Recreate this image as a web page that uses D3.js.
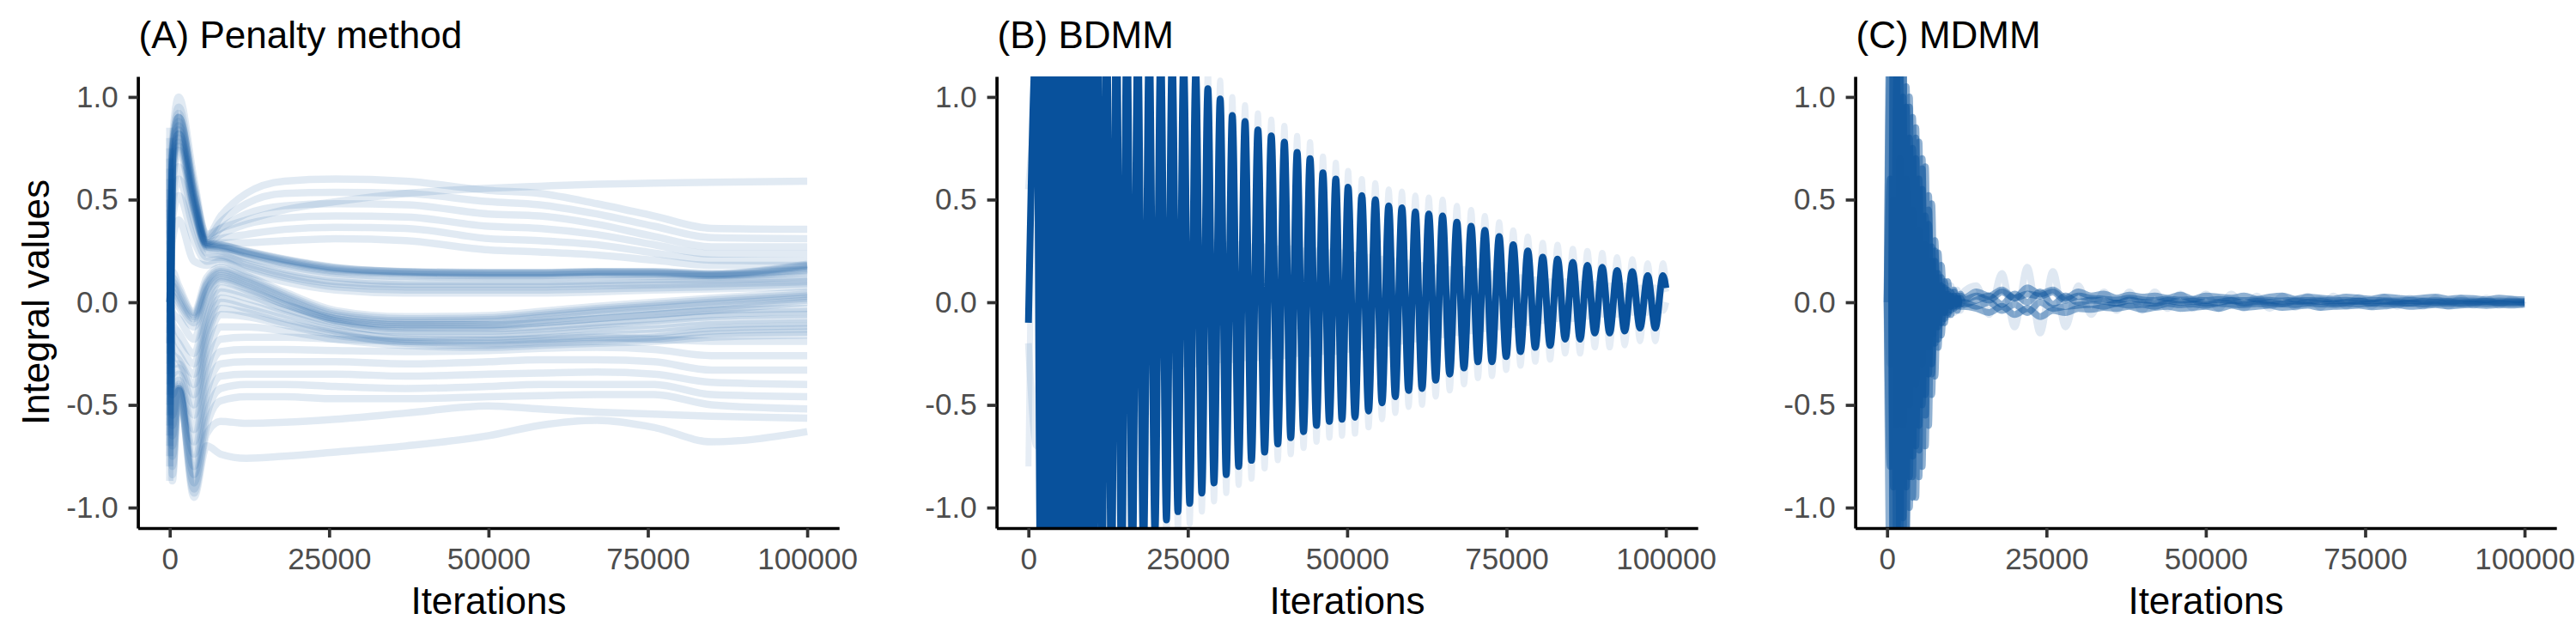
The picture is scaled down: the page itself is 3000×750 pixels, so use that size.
<!DOCTYPE html>
<html><head><meta charset="utf-8">
<script src="https://cdn.jsdelivr.net/npm/d3@7"></script>
<style>
body{margin:0;background:#fff}
svg{display:block}
</style>
</head><body>
<svg id="chart" width="3000" height="750"></svg>
<script>
// ---------------- DATA ----------------
const panelTitles = ["(A) Penalty method", "(B) BDMM", "(C) MDMM"];
const xTicks = [0, 25000, 50000, 75000, 100000];
const xTickLabels = ["0", "25000", "50000", "75000", "100000"];
const yTicks = [-1.0, -0.5, 0.0, 0.5, 1.0];
const yTickLabels = ["-1.0", "-0.5", "0.0", "0.5", "1.0"];
const xTitle = "Iterations";
const yTitle = "Integral values";

// (A) Penalty method: runs sampled at these iterations
const penaltyIter = [0, 400, 1400, 3800, 5800, 8000, 12000, 18000, 26000, 37000, 50000, 58000, 67000, 76000, 85000, 100000];
const penaltyUpper = [
  [-0.80, 0.70, 0.90, 0.55, 0.33, 0.36, 0.40, 0.45, 0.49, 0.53, 0.555, 0.565, 0.575, 0.58, 0.585, 0.59],
  [-0.87, 0.78, 1.00, 0.60, 0.32, 0.42, 0.53, 0.59, 0.60, 0.59, 0.545, 0.53, 0.48, 0.42, 0.36, 0.355],
  [-0.75, 0.74, 0.95, 0.57, 0.31, 0.39, 0.48, 0.53, 0.535, 0.53, 0.49, 0.475, 0.43, 0.37, 0.315, 0.31],
  [-0.70, 0.72, 0.90, 0.55, 0.30, 0.36, 0.43, 0.47, 0.48, 0.475, 0.43, 0.42, 0.38, 0.32, 0.27, 0.27],
  [-0.65, 0.70, 0.86, 0.52, 0.29, 0.33, 0.38, 0.41, 0.42, 0.415, 0.37, 0.36, 0.33, 0.28, 0.235, 0.235],
  [-0.60, 0.68, 0.82, 0.50, 0.29, 0.31, 0.33, 0.355, 0.365, 0.36, 0.31, 0.30, 0.28, 0.24, 0.205, 0.20],
  [-0.55, 0.66, 0.78, 0.48, 0.28, 0.29, 0.29, 0.30, 0.31, 0.30, 0.255, 0.245, 0.23, 0.205, 0.18, 0.18]
];
const penaltyBundleHigh = [
  [-0.50, 0.75, 0.92, 0.52, 0.29, 0.28, 0.25, 0.21, 0.17, 0.15, 0.145, 0.145, 0.15, 0.15, 0.14, 0.185],
  [-0.45, 0.72, 0.90, 0.51, 0.285, 0.278, 0.248, 0.208, 0.168, 0.149, 0.144, 0.144, 0.149, 0.148, 0.138, 0.18],
  [-0.40, 0.70, 0.88, 0.50, 0.28, 0.275, 0.245, 0.205, 0.165, 0.148, 0.142, 0.142, 0.148, 0.146, 0.136, 0.175],
  [-0.35, 0.66, 0.84, 0.48, 0.28, 0.27, 0.24, 0.20, 0.16, 0.145, 0.14, 0.14, 0.145, 0.143, 0.133, 0.165],
  [-0.30, 0.64, 0.82, 0.47, 0.275, 0.268, 0.238, 0.195, 0.155, 0.14, 0.135, 0.135, 0.14, 0.14, 0.132, 0.16],
  [-0.25, 0.62, 0.80, 0.46, 0.27, 0.265, 0.235, 0.19, 0.15, 0.135, 0.13, 0.13, 0.135, 0.135, 0.13, 0.155],
  [-0.20, 0.58, 0.76, 0.45, 0.27, 0.26, 0.22, 0.18, 0.14, 0.125, 0.12, 0.12, 0.125, 0.125, 0.125, 0.145]
];
const penaltyMiddle = [
  [-0.20, 0.55, 0.74, 0.44, 0.26, 0.25, 0.21, 0.16, 0.12, 0.10, 0.10, 0.10, 0.105, 0.11, 0.11, 0.125],
  [-0.15, 0.50, 0.66, 0.40, 0.24, 0.23, 0.19, 0.14, 0.10, 0.085, 0.085, 0.085, 0.09, 0.095, 0.10, 0.11],
  [-0.10, 0.45, 0.60, 0.35, 0.22, 0.22, 0.18, 0.13, 0.09, 0.075, 0.075, 0.075, 0.08, 0.085, 0.09, 0.10],
  [-0.05, 0.40, 0.52, 0.30, 0.20, 0.21, 0.17, 0.12, 0.075, 0.06, 0.06, 0.06, 0.065, 0.07, 0.075, 0.09],
  [0, 0.30, 0.40, 0.20, 0.18, 0.20, 0.15, 0.10, 0.06, 0.045, 0.045, 0.045, 0.05, 0.06, 0.065, 0.075],
  [0, 0.15, 0.08, -0.05, 0.12, 0.17, 0.13, 0.05, -0.04, -0.07, -0.065, -0.045, -0.02, 0.0, 0.02, 0.05],
  [0, 0.12, 0.06, -0.06, 0.10, 0.16, 0.12, 0.04, -0.05, -0.08, -0.075, -0.055, -0.03, -0.01, 0.01, 0.04],
  [0, 0.10, 0.04, -0.07, 0.09, 0.15, 0.11, 0.03, -0.06, -0.09, -0.085, -0.065, -0.04, -0.02, 0.0, 0.03],
  [0, 0.08, 0.02, -0.08, 0.08, 0.14, 0.10, 0.02, -0.07, -0.10, -0.095, -0.075, -0.05, -0.03, -0.01, 0.02],
  [0, 0.05, 0.0, -0.10, 0.06, 0.13, 0.09, 0.01, -0.08, -0.11, -0.11, -0.09, -0.065, -0.045, -0.025, 0.01],
  [0, 0.03, -0.02, -0.12, 0.05, 0.12, 0.08, 0.0, -0.09, -0.12, -0.12, -0.10, -0.08, -0.06, -0.04, 0.0]
];
const penaltyLowMid = [
  [0.05, -0.05, -0.08, -0.18, 0.02, 0.11, 0.07, -0.01, -0.09, -0.13, -0.13, -0.12, -0.10, -0.08, -0.06, -0.045],
  [0.10, -0.10, -0.15, -0.25, -0.02, 0.10, 0.06, -0.01, -0.08, -0.11, -0.11, -0.10, -0.08, -0.06, -0.04, -0.03],
  [0.15, -0.15, -0.20, -0.30, -0.05, 0.07, 0.04, -0.03, -0.10, -0.15, -0.155, -0.145, -0.125, -0.11, -0.09, -0.08],
  [0.20, -0.20, -0.25, -0.35, -0.08, 0.05, 0.02, -0.04, -0.11, -0.14, -0.14, -0.13, -0.11, -0.09, -0.07, -0.06],
  [0.25, -0.25, -0.28, -0.40, -0.12, 0.02, -0.01, -0.06, -0.13, -0.18, -0.185, -0.175, -0.16, -0.15, -0.125, -0.115],
  [0.30, -0.30, -0.30, -0.45, -0.15, 0.0, -0.03, -0.08, -0.14, -0.17, -0.17, -0.16, -0.14, -0.13, -0.11, -0.10],
  [0.35, -0.35, -0.32, -0.50, -0.18, -0.03, -0.05, -0.10, -0.15, -0.20, -0.21, -0.20, -0.19, -0.18, -0.155, -0.145],
  [0.40, -0.40, -0.35, -0.55, -0.22, -0.06, -0.07, -0.11, -0.16, -0.19, -0.20, -0.19, -0.18, -0.17, -0.14, -0.13],
  [0.45, -0.45, -0.38, -0.62, -0.28, -0.12, -0.12, -0.14, -0.18, -0.21, -0.22, -0.21, -0.20, -0.19, -0.17, -0.16]
];
const penaltyLower = [
  [0.50, -0.55, -0.40, -0.68, -0.33, -0.18, -0.17, -0.17, -0.18, -0.19, -0.185, -0.18, -0.17, -0.18, -0.19, -0.19],
  [0.55, -0.60, -0.42, -0.74, -0.38, -0.24, -0.23, -0.23, -0.235, -0.24, -0.235, -0.225, -0.22, -0.23, -0.26, -0.26],
  [0.60, -0.65, -0.42, -0.80, -0.44, -0.30, -0.29, -0.29, -0.29, -0.30, -0.29, -0.28, -0.28, -0.29, -0.33, -0.33],
  [0.65, -0.70, -0.43, -0.84, -0.50, -0.36, -0.35, -0.35, -0.35, -0.36, -0.35, -0.345, -0.34, -0.35, -0.39, -0.40],
  [0.70, -0.75, -0.43, -0.88, -0.55, -0.42, -0.40, -0.40, -0.41, -0.42, -0.41, -0.40, -0.40, -0.40, -0.45, -0.46],
  [0.75, -0.80, -0.43, -0.91, -0.60, -0.48, -0.46, -0.46, -0.47, -0.47, -0.46, -0.455, -0.45, -0.45, -0.50, -0.52],
  [0.80, -0.84, -0.42, -0.93, -0.64, -0.58, -0.59, -0.585, -0.57, -0.54, -0.505, -0.52, -0.535, -0.545, -0.555, -0.565],
  [0.85, -0.87, -0.41, -0.95, -0.70, -0.74, -0.76, -0.75, -0.73, -0.70, -0.65, -0.60, -0.575, -0.61, -0.68, -0.63]
];

// (B) BDMM: extrema (peak, trough, ...) of the oscillating runs
const bdmmIter = [0,
  1300,1900, 2500,3100, 3700,4280, 4850,5400, 5950,6500,
  7050,7620, 8200,8820, 9450,10120, 10800,11520, 12250,13020,
  13800,14620, 15450,16300, 17150,18050, 18950,19850, 20750,21650,
  22550,23450, 24350,25300, 26250,27200, 28150,29110, 30080,31030,
  31980,32980, 33980,34990, 36000,37050, 38100,39120, 40150,41150,
  42150,43160, 44180,45190, 46200,47210, 48220,49190, 50150,51230,
  52300,53360, 54420,55470, 56520,57550, 58590,59640, 60700,61750,
  62810,63890, 64970,66090, 67210,68330, 69450,70520, 71600,72720,
  73850,74950, 76050,77190, 78340,79510, 80680,81840, 83010,84200,
  85400,86540, 87690,88850, 90020,91180, 92350,93540, 94730,95940,
  97150,98340,
  99540, 100000];
const bdmmMain = [-0.1,
  1.30,-1.40, 1.60,-1.60, 1.70,-1.70, 1.70,-1.70, 1.70,-1.65,
  1.65,-1.60, 1.60,-1.55, 1.55,-1.50, 1.50,-1.45, 1.45,-1.40,
  1.40,-1.35, 1.35,-1.30, 1.30,-1.22, 1.27,-1.12, 1.23,-1.06,
  1.20,-1.02, 1.17,-0.98, 1.12,-0.93, 1.04,-0.88, 0.99,-0.84,
  0.91,-0.80, 0.88,-0.77, 0.84,-0.73, 0.81,-0.69, 0.78,-0.66,
  0.73,-0.63, 0.70,-0.60, 0.63,-0.58, 0.60,-0.57, 0.56,-0.56,
  0.52,-0.53, 0.50,-0.49, 0.47,-0.46, 0.46,-0.43, 0.44,-0.42,
  0.43,-0.38, 0.42,-0.35, 0.39,-0.32, 0.37,-0.29, 0.35,-0.29,
  0.32,-0.265, 0.28,-0.24, 0.25,-0.22, 0.22,-0.21, 0.21,-0.18,
  0.195,-0.18, 0.18,-0.15, 0.17,-0.15, 0.155,-0.14, 0.15,-0.125,
  0.13,-0.125,
  0.13, 0.07];
const bdmmTip = [-0.8,
  1.50,-1.60, 1.80,-1.80, 1.90,-1.90, 1.90,-1.90, 1.90,-1.85,
  1.85,-1.80, 1.80,-1.75, 1.75,-1.70, 1.70,-1.65, 1.65,-1.60,
  1.60,-1.55, 1.50,-1.45, 1.45,-1.35, 1.40,-1.25, 1.35,-1.17,
  1.30,-1.12, 1.27,-1.08, 1.22,-1.02, 1.13,-0.97, 1.08,-0.93,
  1.00,-0.89, 0.96,-0.86, 0.92,-0.81, 0.89,-0.77, 0.86,-0.74,
  0.81,-0.71, 0.78,-0.68, 0.71,-0.66, 0.68,-0.65, 0.64,-0.64,
  0.60,-0.61, 0.58,-0.57, 0.55,-0.54, 0.54,-0.51, 0.52,-0.50,
  0.51,-0.46, 0.50,-0.43, 0.47,-0.40, 0.45,-0.37, 0.42,-0.36,
  0.39,-0.33, 0.35,-0.31, 0.32,-0.29, 0.29,-0.28, 0.28,-0.25,
  0.26,-0.25, 0.25,-0.22, 0.24,-0.22, 0.22,-0.21, 0.21,-0.19,
  0.19,-0.19,
  0.19, 0.10];
const bdmmLow = [0.55,
  0.90,-0.90, 0.90,-0.90, 0.80,-0.80, 0.70,-0.70, 0.60,-0.60,
  0.55,-0.55, 0.50,-0.50, 0.45,-0.45, 0.45,-0.42, 0.42,-0.40,
  0.40,-0.38, 0.40,-0.36, 0.38,-0.35, 0.37,-0.33, 0.36,-0.32,
  0.35,-0.30, 0.35,-0.30, 0.34,-0.29, 0.34,-0.28, 0.33,-0.28,
  0.33,-0.27, 0.32,-0.27, 0.32,-0.26, 0.31,-0.26, 0.30,-0.25,
  0.30,-0.25, 0.29,-0.24, 0.29,-0.24, 0.28,-0.23, 0.28,-0.22,
  0.27,-0.22, 0.26,-0.21, 0.25,-0.20, 0.24,-0.19, 0.23,-0.18,
  0.22,-0.17, 0.21,-0.16, 0.20,-0.15, 0.19,-0.14, 0.18,-0.13,
  0.17,-0.12, 0.16,-0.11, 0.15,-0.10, 0.14,-0.10, 0.13,-0.09,
  0.12,-0.08, 0.12,-0.08, 0.11,-0.07, 0.10,-0.07, 0.10,-0.06,
  0.10,-0.06,
  0.09, 0.05];
const bdmmLowAnti = [-0.2,
  -0.70,0.70, -0.70,0.70, -0.65,0.65, -0.60,0.60, -0.55,0.55,
  -0.50,0.50, -0.45,0.45, -0.42,0.42, -0.40,0.40, -0.38,0.38,
  -0.36,0.36, -0.35,0.35, -0.34,0.34, -0.33,0.33, -0.32,0.32,
  -0.31,0.31, -0.30,0.30, -0.30,0.30, -0.29,0.29, -0.28,0.28,
  -0.28,0.28, -0.27,0.27, -0.27,0.27, -0.26,0.26, -0.26,0.26,
  -0.25,0.25, -0.25,0.25, -0.24,0.24, -0.24,0.24, -0.23,0.23,
  -0.22,0.22, -0.21,0.21, -0.20,0.20, -0.19,0.19, -0.18,0.18,
  -0.17,0.17, -0.16,0.16, -0.15,0.16, -0.14,0.15, -0.13,0.14,
  -0.12,0.13, -0.11,0.12, -0.10,0.11, -0.09,0.10, -0.08,0.10,
  -0.08,0.09, -0.07,0.09, -0.06,0.08, -0.06,0.08, -0.05,0.07,
  -0.05,0.07,
  -0.04, 0.0];

// (C) MDMM: runs sampled at these iterations
const mdmmIter = [0,500,1000,1500,2000,2500,3000,3500,4000,4500,5000,5500,6000,6500,7000,7500,8000,8500,9000,9500,10000,10500,11000,11500,12000,
  14000,16000,18000,20000,22000,24000,26000,28000,30000,32000,34000,36000,38000,40000,42000,44000,46000,48000,50000,52000,54000,56000,58000,60000,
  62000,64000,66000,68000,70000,72000,74000,76000,78000,80000,82000,84000,86000,88000,90000,92000,94000,96000,98000,100000];
const mdmmRun1 = [0, 1.2, -1.5, 1.5, -1.3, 1.2, -1.1, 0.95, -0.85, 0.8, -0.72, 0.65, -0.55, 0.45, -0.35, 0.25, -0.18, 0.12, -0.08, 0.06, -0.04, 0.05, -0.02, 0.03, 0.02,
  0.05, 0.03, 0.06, 0.02, 0.07, 0.04, 0.06, 0.02, 0.05, 0.03, 0.04, 0.02, 0.035, 0.025, 0.03, 0.02, 0.035, 0.015, 0.03, 0.025, 0.02, 0.03, 0.015, 0.025, 0.03, 0.015, 0.025, 0.02, 0.015, 0.025, 0.02, 0.015, 0.025, 0.02, 0.015, 0.02, 0.025, 0.015, 0.02, 0.018, 0.012, 0.02, 0.015, 0.012];
const mdmmRun2 = [0, -1.4, 1.6, -1.4, 1.35, -1.2, 1.05, -1.0, 0.9, -0.95, 0.78, -0.8, 0.66, -0.6, 0.48, -0.36, 0.24, -0.16, 0.1, -0.06, 0.05, -0.03, 0.03, -0.02, -0.02,
  -0.03, -0.05, -0.02, -0.06, -0.03, -0.07, -0.04, -0.05, -0.03, -0.035, -0.025, -0.03, -0.02, -0.035, -0.025, -0.02, -0.03, -0.025, -0.02, -0.03, -0.015, -0.025, -0.02, -0.015, -0.025, -0.02, -0.015, -0.025, -0.02, -0.018, -0.015, -0.022, -0.018, -0.012, -0.02, -0.016, -0.012, -0.018, -0.014, -0.012, -0.016, -0.012, -0.014, -0.01];
const mdmmRun3 = [0, 0.6, -0.9, 1.1, -1.2, 1.0, -0.9, 0.8, -0.75, 0.7, -0.6, 0.55, -0.45, 0.38, -0.3, 0.2, -0.12, 0.08, -0.05, 0.04, -0.02, 0.03, -0.01, 0.02, -0.01,
  0.01, 0.03, -0.01, 0.04, 0.0, 0.05, -0.01, 0.03, 0.0, 0.01, 0.005, -0.005, 0.01, 0.0, -0.005, 0.008, 0.0, 0.005, -0.005, 0.0, 0.008, -0.004, 0.004, 0.0, -0.006, 0.005, 0.0, 0.004, -0.004, 0.0, 0.005, -0.003, 0.002, 0.0, -0.004, 0.003, 0.0, 0.002, -0.003, 0.0, 0.003, -0.002, 0.0, 0.0];
const mdmmRun4 = [0, -0.8, 1.2, -1.3, 1.1, -1.05, 0.95, -0.85, 0.75, -0.7, 0.6, -0.5, 0.42, -0.35, 0.27, -0.2, 0.14, -0.1, 0.07, -0.05, 0.03, -0.02, 0.02, -0.01, 0.0,
  -0.02, 0.0, -0.04, -0.01, -0.05, 0.0, -0.03, -0.02, -0.015, -0.01, -0.02, -0.005, -0.015, -0.01, -0.02, -0.005, -0.012, -0.008, -0.015, -0.005, -0.01, -0.012, -0.006, -0.01, -0.008, -0.012, -0.006, -0.008, -0.01, -0.006, -0.009, -0.005, -0.008, -0.007, -0.005, -0.008, -0.006, -0.005, -0.007, -0.005, -0.006, -0.004, -0.006, -0.004];
const mdmmRun5 = [0, 1.5, -1.7, 1.3, -1.5, 1.3, -1.2, 1.0, -0.95, 0.85, -0.85, 0.7, -0.7, 0.52, -0.45, 0.3, -0.22, 0.18, -0.1, 0.1, -0.06, 0.06, -0.04, 0.04, 0.01,
  0.03, 0.01, 0.05, 0.02, 0.04, 0.03, 0.05, 0.01, 0.03, 0.02, 0.015, 0.01, 0.02, 0.012, 0.008, 0.015, 0.01, 0.012, 0.008, 0.014, 0.01, 0.008, 0.012, 0.009, 0.006, 0.01, 0.008, 0.01, 0.007, 0.009, 0.006, 0.009, 0.007, 0.006, 0.008, 0.006, 0.007, 0.005, 0.007, 0.006, 0.005, 0.006, 0.005, 0.004];
const mdmmRun6 = [0, -0.3, 0.5, -0.6, 0.7, -0.6, 0.6, -0.5, 0.45, -0.4, 0.35, -0.3, 0.28, -0.22, 0.2, -0.15, 0.12, -0.1, 0.09, -0.07, 0.08, -0.05, 0.06, -0.04, 0.05,
  0.08, -0.06, 0.14, -0.12, 0.17, -0.15, 0.15, -0.12, 0.08, -0.06, 0.05, -0.04, 0.05, -0.04, 0.05, -0.03, 0.04, -0.03, 0.04, -0.03, 0.04, -0.03, 0.03, -0.03, 0.03, -0.025, 0.03, -0.025, 0.03, -0.02, 0.025, -0.02, 0.025, -0.02, 0.02, -0.02, 0.02, -0.02, 0.02, -0.015, 0.02, -0.015, 0.015, -0.015];

// ---------------- DRAWING ----------------
const FONT = '"Liberation Sans", Arial, Helvetica, sans-serif';
const lineColor = "#08519C";
const svg = d3.select("#chart");

const panelWidth = 1000;
const plot = {left: 160.6, right: 977.2, top: 89, bottom: 615};

const panels = [
  {title: panelTitles[0], showY: true, series: [
    ...penaltyUpper, ...penaltyBundleHigh, ...penaltyMiddle, ...penaltyLowMid, ...penaltyLower
  ].map(v => ({iter: penaltyIter, values: v, opacity: 0.12, width: 8.5}))},
  {title: panelTitles[1], showY: false, series: [
    {iter: bdmmIter, values: bdmmLow, opacity: 0.11, width: 8},
    {iter: bdmmIter, values: bdmmLowAnti, opacity: 0.11, width: 8},
    {iter: bdmmIter, values: bdmmTip, opacity: 0.1, width: 7},
    {iter: bdmmIter, values: bdmmMain, opacity: 1, width: 8}
  ]},
  {title: panelTitles[2], showY: false, series: [
    {iter: mdmmIter, values: mdmmRun6, opacity: 0.13, width: 8},
    {iter: mdmmIter, values: mdmmRun1, opacity: 0.45, width: 8},
    {iter: mdmmIter, values: mdmmRun2, opacity: 0.45, width: 8},
    {iter: mdmmIter, values: mdmmRun3, opacity: 0.45, width: 8},
    {iter: mdmmIter, values: mdmmRun4, opacity: 0.45, width: 8},
    {iter: mdmmIter, values: mdmmRun5, opacity: 0.45, width: 8}
  ]}
];

panels.forEach((p, i) => {
  const ox = i * panelWidth;
  const g = svg.append("g").attr("transform", `translate(${ox},0)`);
  const x = d3.scaleLinear().domain([-5000, 105000]).range([plot.left, plot.right]);
  const y = d3.scaleLinear().domain([-1.1, 1.1]).range([plot.bottom, plot.top]);

  const clipId = "clip" + i;
  g.append("clipPath").attr("id", clipId).append("rect")
    .attr("x", plot.left).attr("y", plot.top)
    .attr("width", plot.right - plot.left).attr("height", plot.bottom - plot.top);

  const line = d3.line().x(d => x(d[0])).y(d => y(d[1])).curve(d3.curveMonotoneX);
  const lg = g.append("g").attr("clip-path", `url(#${clipId})`);
  p.series.forEach(s => {
    lg.append("path")
      .attr("d", line(s.iter.map((t, k) => [t, s.values[k]])))
      .attr("fill", "none")
      .attr("stroke", lineColor)
      .attr("stroke-opacity", s.opacity)
      .attr("stroke-width", s.width)
      .attr("stroke-linejoin", "round");
  });

  // x axis
  const gx = g.append("g").attr("transform", `translate(0,${plot.bottom})`)
    .call(d3.axisBottom(x).tickValues(xTicks).tickSize(11).tickSizeOuter(0).tickPadding(12)
      .tickFormat((d, k) => xTickLabels[k]));
  gx.attr("font-size", 35).attr("font-family", FONT);
  gx.select(".domain").attr("stroke", "#000").attr("stroke-width", 3.7);
  gx.selectAll(".tick line").attr("stroke", "#333333").attr("stroke-width", 3.7);
  gx.selectAll(".tick text").attr("fill", "#4D4D4D");

  // y axis
  const gy = g.append("g").attr("transform", `translate(${plot.left},0)`)
    .call(d3.axisLeft(y).tickValues(yTicks).tickSize(11).tickSizeOuter(0).tickPadding(12)
      .tickFormat((d, k) => yTickLabels[k]));
  gy.attr("font-size", 35).attr("font-family", FONT);
  gy.select(".domain").attr("stroke", "#000").attr("stroke-width", 3.7);
  gy.selectAll(".tick line").attr("stroke", "#333333").attr("stroke-width", 3.7);
  gy.selectAll(".tick text").attr("fill", "#4D4D4D");

  // titles
  g.append("text").attr("x", plot.left + 1).attr("y", 56)
    .attr("font-family", FONT).attr("font-size", 44).attr("fill", "#000")
    .text(p.title);
  g.append("text").attr("x", (plot.left + plot.right) / 2).attr("y", 715)
    .attr("text-anchor", "middle")
    .attr("font-family", FONT).attr("font-size", 44).attr("fill", "#000")
    .text(xTitle);
  if (p.showY) {
    g.append("text").attr("transform", `translate(57,${(plot.top + plot.bottom) / 2}) rotate(-90)`)
      .attr("text-anchor", "middle")
      .attr("font-family", FONT).attr("font-size", 44).attr("fill", "#000")
      .text(yTitle);
  }
});
</script>
</body></html>
